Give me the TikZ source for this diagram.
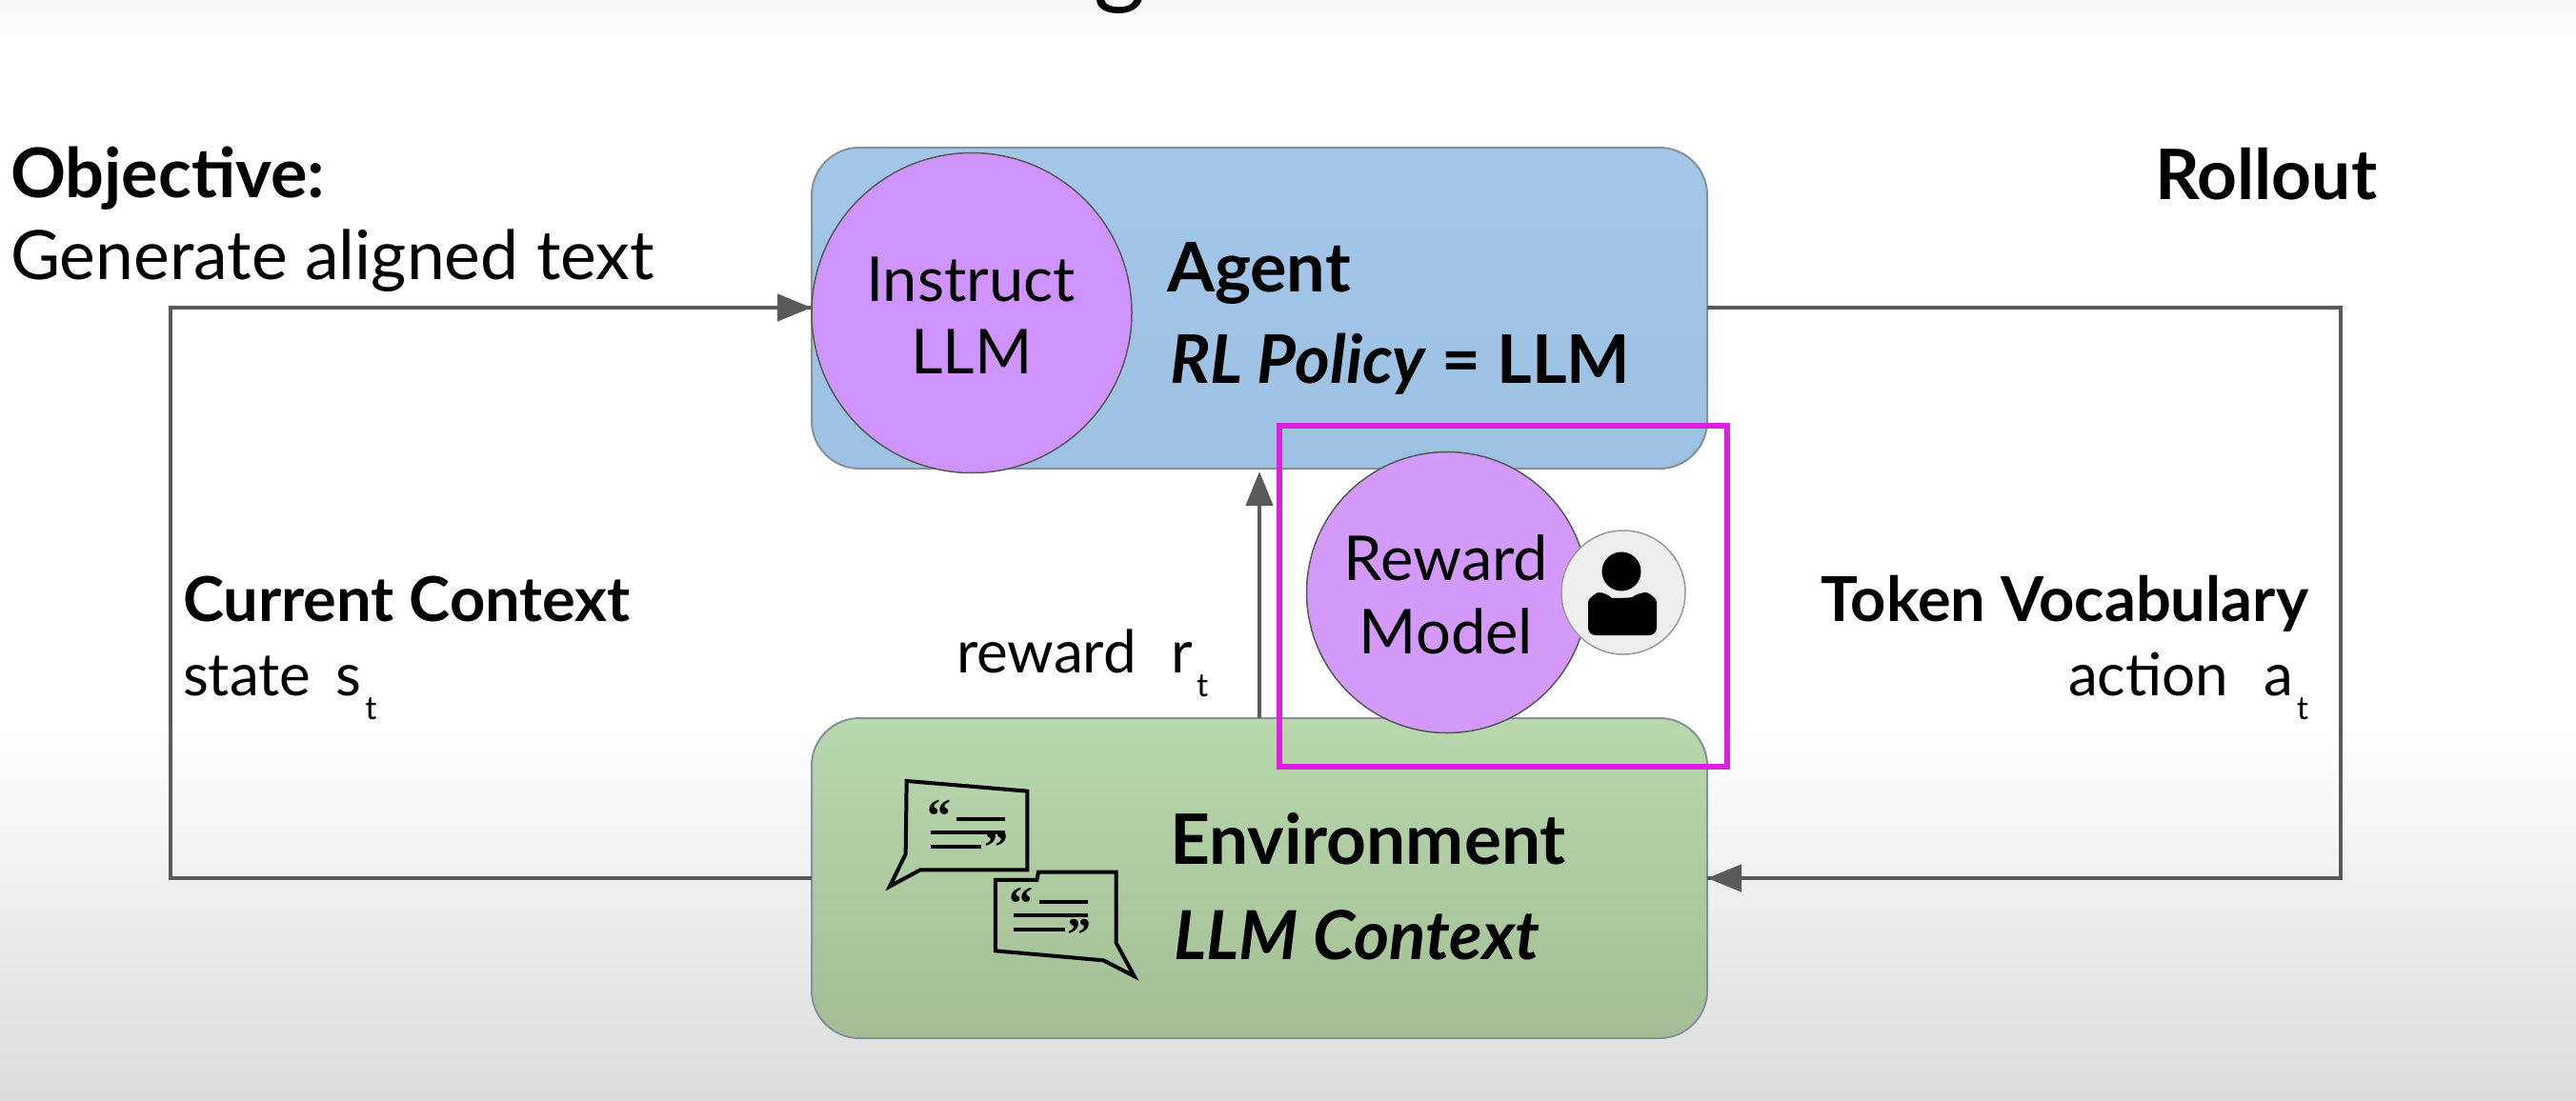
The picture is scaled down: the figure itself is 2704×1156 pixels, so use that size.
\documentclass[tikz,border=0pt]{standalone}
\usepackage{fontspec}
\setmainfont{Lato}
\newfontfamily\quotefont{Liberation Serif}
\usetikzlibrary{arrows.meta,calc}
\definecolor{linegray}{HTML}{5A5A5A}
\definecolor{agentA}{HTML}{A3C6E9}
\definecolor{agentB}{HTML}{9DC1E3}
\definecolor{envA}{HTML}{B8D8AD}
\definecolor{envB}{HTML}{A3BE96}
\definecolor{boxedge}{HTML}{86929A}
\definecolor{purpleA}{HTML}{CF94FC}
\definecolor{purpleB}{HTML}{D399FB}
\definecolor{magentaframe}{HTML}{DD20DD}
\definecolor{personbg}{HTML}{EEEEEE}
\newcommand{\lowidx}[1]{\kern4pt\raisebox{-25pt}{\fontsize{34}{34}\selectfont #1}}
\newcommand{\fsz}[1]{\fontsize{#1}{#1}\selectfont}
\tikzset{
  x=1pt,y=-1pt,
  bigbox/.style={draw=boxedge,line width=2pt,rounded corners=50pt,minimum width=940pt,inner sep=0pt,outer sep=0pt},
  purplecirc/.style={circle,draw=black!65,line width=1.5pt,inner sep=0pt,outer sep=0pt,align=center,text=black},
  conn/.style={draw=linegray,line width=4.5pt},
  arrowtip/.style={-{Triangle[length=36pt,width=28pt]},color=linegray},
  lbl/.style={inner sep=0pt,outer sep=0pt,text=black},
  bubble/.style={draw=black,line width=4pt,miter limit=8},
  bubbleline/.style={draw=black,line width=4pt},
}
\begin{document}
\begin{tikzpicture}
\useasboundingbox (0,0) rectangle (2704,1156);
% page background
\shade[top color=white,bottom color=white] (0,0) rectangle (2704,760);
\shade[top color=white,bottom color=black!14] (0,760) rectangle (2704,1156);
\shade[top color=black!3,bottom color=white] (0,0) rectangle (2704,40);
% clipped title fragment
\begin{scope}
\clip (0,0) rectangle (2704,1156);
\node[lbl,anchor=base] (titleg) at (1176,-4) {\fsz{104}g};
\end{scope}
% corners
\coordinate (tl) at (179,323);
\coordinate (tr) at (2457,323);
\coordinate (rx) at (1322,620);
% boxes
\node[bigbox,minimum height=337pt,top color=agentA,bottom color=agentB] (agent) at (1322,323.5) {};
\node[bigbox,minimum height=336pt,top color=envA,bottom color=envB] (env) at (1322,922) {};
% connectors
\draw[conn] (env.west) -| (tl) -- (852,323);
\path[draw=none] (tl) -- (852,323) coordinate (la);
\draw[conn,arrowtip] (tl) -- (la);
\draw[conn] (agent.east |- tr) -- (tr) -- (tr |- env.east) -- (env.east);
\draw[conn,arrowtip] (tr |- env.east) -- (env.east);
\draw[conn,arrowtip] (rx |- env.north) -- ($(rx |- agent.south)+(0,3)$);
% circles
\node[purplecirc,fill=purpleA,minimum size=336pt] (instruct) at (1020,328.5) {};
\node[purplecirc,fill=purpleB,minimum size=295pt] (reward) at (1519,622) {};
\node[circle,draw=black!40,line width=1.5pt,fill=personbg,minimum size=130pt,inner sep=0pt,outer sep=0pt] (person) at (1704,622) {};
% person icon
\fill[black,rounded corners=8pt] (1667,667) -- (1667,640)
  .. controls (1667,628) and (1676,622) .. (1686,622)
  .. controls (1692,628) and (1712,628) .. (1720,622)
  .. controls (1730,622) and (1739,628) .. (1739,640) -- (1739,667) -- cycle;
\fill[black] (1702,600) circle[radius=20.5];
% frame
\node[draw=magentaframe,line width=5.5pt,minimum width=470pt,minimum height=358pt,inner sep=0pt] (frame) at (1578,626) {};
% labels
\node[lbl,anchor=base west] (objective) at (11,207) {\fsz{72}\bfseries Objective:};
\node[lbl,anchor=base west] (generate) at (11,293) {\fsz{71.5}Generate aligned text};
\node[lbl,anchor=base] (instructA) at (1019,316) {\fsz{65}Instruct};
\node[lbl,anchor=base] (instructB) at (1020,392) {\fsz{65}LLM};
\node[lbl,anchor=base west] (agentT) at (1225,306) {\fsz{72}\bfseries Agent};
\node[lbl,anchor=base west] (agentP) at (1228,402) {\fsz{70.5}\bfseries{\itshape RL Policy} = LLM};
\node[lbl,anchor=base east] (rollout) at (2495,209) {\fsz{73}\bfseries Rollout};
\node[lbl,anchor=base west] (ctxA) at (192,652) {\fsz{65}\bfseries Current Context};
\node[lbl,anchor=base west] (ctxB) at (192,730) {\fsz{62}state\, s\lowidx{t}};
\node[lbl,anchor=base west] (rewardL) at (1004,706) {\fsz{62}reward\,\, r\lowidx{t}};
\node[lbl,anchor=base east] (tokA) at (2423,652) {\fsz{65}\bfseries Token Vocabulary};
\node[lbl,anchor=base east] (tokB) at (2423,730) {\fsz{62}action\,\, a\lowidx{t}};
\node[lbl,anchor=base] (rewA) at (1518,609) {\fsz{65}Reward};
\node[lbl,anchor=base] (rewB) at (1518,686) {\fsz{65}Model};
\node[lbl,anchor=base west] (envT) at (1228,907) {\fsz{73}\bfseries Environment};
\node[lbl,anchor=base west] (envC) at (1232,1007) {\fsz{71}\bfseries\itshape LLM Context};
% speech bubbles
\begin{scope}[shift={(860,740)},x=0.3333pt,y=-0.3333pt]
\draw[bubble] (275,240) -- (655,272) -- (655,520) -- (318,520) -- (222,572) -- (272,470) -- cycle;
\draw[bubbleline] (432,360) -- (585,360);
\draw[bubbleline] (350,403) -- (585,403);
\draw[bubbleline] (350,447) -- (510,447);
\node[lbl,anchor=base] (q1) at (378,400) {\quotefont\bfseries\fsz{50}“};
\node[lbl,anchor=base] (q2) at (558,500) {\quotefont\bfseries\fsz{50}”};
\draw[bubble] (690,527) -- (935,527) -- (935,750) -- (992,855) -- (895,805) -- (555,775) -- (555,552) -- (685,552) -- cycle;
\draw[bubbleline] (692,620) -- (845,620);
\draw[bubbleline] (612,663) -- (845,663);
\draw[bubbleline] (612,707) -- (775,707);
\node[lbl,anchor=base] (q3) at (635,678) {\quotefont\bfseries\fsz{50}“};
\node[lbl,anchor=base] (q4) at (818,775) {\quotefont\bfseries\fsz{50}”};
\end{scope}
\end{tikzpicture}
\end{document}
